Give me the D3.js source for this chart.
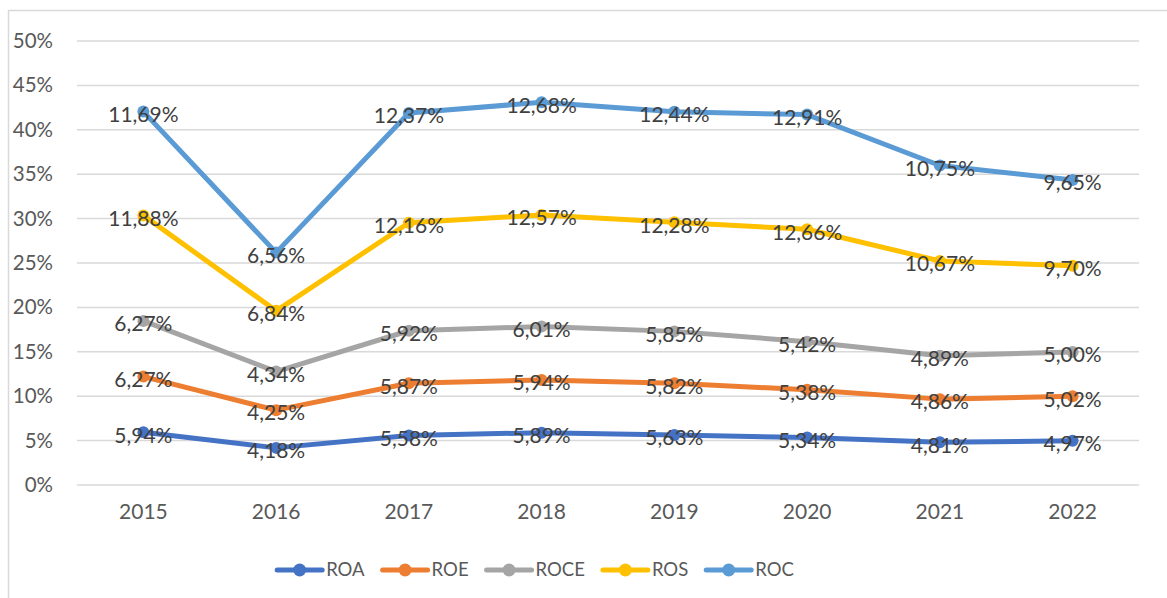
<!DOCTYPE html>
<html><head><meta charset="utf-8">
<script src="https://cdn.jsdelivr.net/npm/d3@7"></script>
<style>body{margin:0;background:#fff;} svg{display:block;font-family:Lato,"Liberation Sans",sans-serif;}</style>
</head><body>
<svg id="c" width="1167" height="598"></svg>
<script>
const years = ["2015","2016","2017","2018","2019","2020","2021","2022"];
const seriesNames = ["ROA","ROE","ROCE","ROS","ROC"];
const ROA  = [5.94,4.18,5.58,5.89,5.63,5.34,4.81,4.97];
const ROE  = [6.27,4.25,5.87,5.94,5.82,5.38,4.86,5.02];
const ROCE = [6.27,4.34,5.92,6.01,5.85,5.42,4.89,5.00];
const ROS  = [11.88,6.84,12.16,12.57,12.28,12.66,10.67,9.70];
const ROC  = [11.69,6.56,12.37,12.68,12.44,12.91,10.75,9.65];
const yTicks = [0,5,10,15,20,25,30,35,40,45,50];
const colors = ["#4472C4","#ED7D31","#A5A5A5","#FFC000","#5B9BD5"];

(function(){
const values = [ROA,ROE,ROCE,ROS,ROC];
const svg = d3.select("#c");
svg.append("path").attr("d","M8.5,598 V10.5 H1167").attr("fill","none").attr("stroke","#d9d9d9").attr("stroke-width",1.5);

const pL=77,pR=1139,pT=41,pB=485;
const x = d3.scaleBand().domain(years).range([pL,pR]);
const y = d3.scaleLinear().domain([0,50]).range([pB,pT]);

svg.append("g").selectAll("line").data(yTicks).join("line")
  .attr("x1",pL).attr("x2",pR).attr("y1",d=>y(d)).attr("y2",d=>y(d))
  .attr("stroke","#d9d9d9").attr("stroke-width",1.5);

const yAxis = d3.axisLeft(y).tickValues(yTicks).tickFormat(d=>d+"%").tickSize(0).tickPadding(0);
const gy = svg.append("g").attr("transform","translate(53,0)").call(yAxis);
gy.select(".domain").remove();
gy.selectAll("text").attr("font-size",20.5).attr("fill","#595959").attr("font-family","Lato,'Liberation Sans',sans-serif");

const xAxis = d3.axisBottom(x).tickSize(0).tickPadding(0);
const gx = svg.append("g").attr("transform","translate(0,504)").call(xAxis);
gx.select(".domain").remove();
gx.selectAll("text").attr("font-size",21).attr("fill","#595959").attr("font-family","Lato,'Liberation Sans',sans-serif");

const cum = values.map(()=>[]);
years.forEach((yr,i)=>{
  let s=0;
  values.forEach((v,k)=>{ s+=v[i]; cum[k].push(s); });
});
const cx = yr => x(yr)+x.bandwidth()/2;
const line = d3.line().x((d,i)=>cx(years[i])).y(d=>y(d));

values.forEach((v,k)=>{
  const g = svg.append("g");
  g.append("path").datum(cum[k]).attr("d",line).attr("fill","none")
    .attr("stroke",colors[k]).attr("stroke-width",5).attr("stroke-linejoin","round").attr("stroke-linecap","round");
  g.selectAll("circle").data(cum[k]).join("circle")
    .attr("cx",(d,i)=>cx(years[i])).attr("cy",d=>y(d)).attr("r",6).attr("fill",colors[k]);
});
values.forEach((v,k)=>{
  svg.append("g").selectAll("text").data(v).join("text")
    .attr("x",(d,i)=>cx(years[i])).attr("y",(d,i)=>y(cum[k][i])+3)
    .attr("dy","0.35em").attr("text-anchor","middle").attr("font-size",21).attr("fill","#404040")
    .text(d=>d.toFixed(2).replace(".",",")+"%");
});

// legend, laid out from measured text widths and centred
const lg = svg.append("g");
const items = seriesNames.map((n,k)=>{
  const g = lg.append("g");
  g.append("line").attr("x1",0).attr("x2",45).attr("stroke",colors[k]).attr("stroke-width",5).attr("stroke-linecap","round");
  g.append("circle").attr("cx",22.5).attr("r",6.5).attr("fill",colors[k]);
  const t = g.append("text").attr("x",49).attr("dy","0.35em").attr("font-size",18.5).attr("fill","#595959").text(n);
  return {g, w: 49 + t.node().getComputedTextLength()};
});
const gap = 18;
const total = d3.sum(items, d=>d.w) + gap*(items.length-1);
let lx = 535.5 - total/2;
items.forEach(it=>{ it.g.attr("transform",`translate(${lx},570)`); lx += it.w + gap; });
})();
</script>
</body></html>
